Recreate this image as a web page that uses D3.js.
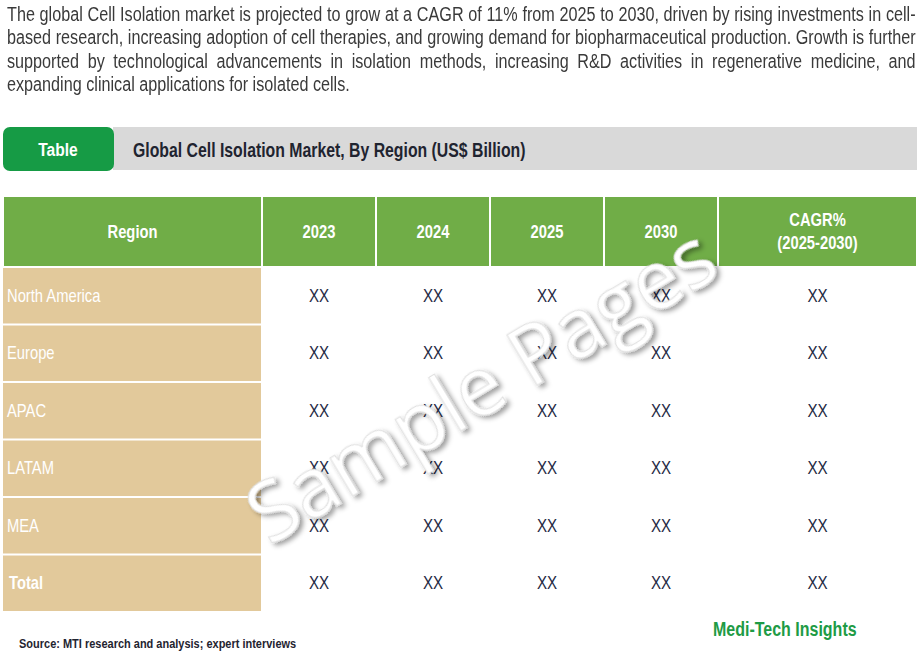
<!DOCTYPE html>
<html><head><meta charset="utf-8">
<script src="https://cdn.jsdelivr.net/npm/d3@7"></script>
<style>
body{margin:0;background:#fff;}
#para{position:absolute;left:7px;top:3px;width:1100px;transform:scaleX(0.826);transform-origin:0 0;font-family:"Liberation Sans",Arial,sans-serif;font-size:19.6px;line-height:23.3px;color:#3a3a3a;text-align:justify;}
svg{position:absolute;left:0;top:0;}
</style></head><body>
<div id="para">The global Cell Isolation market is projected to grow at a CAGR of 11% from 2025 to 2030, driven by rising investments in cell-based research, increasing adoption of cell therapies, and growing demand for biopharmaceutical production. Growth is further supported by technological advancements in isolation methods, increasing R&amp;D activities in regenerative medicine, and expanding clinical applications for isolated cells.</div>
<svg id="c" width="924" height="659"></svg>
<script>
const columns = ["Region","2023","2024","2025","2030","CAGR%\n(2025-2030)"];
const regions = ["North America","Europe","APAC","LATAM","MEA","Total"];
const values = regions.map(()=>["XX","XX","XX","XX","XX"]);
const colEdges = [3,262,376,490,604,718,917];
const F = '"Liberation Sans",Arial,sans-serif';
const SX = 0.82;
const svg = d3.select("#c");
const defs = svg.append("defs");
const f = defs.append("filter").attr("id","sh").attr("x","-10%").attr("y","-10%").attr("width","120%").attr("height","130%");
f.append("feDropShadow").attr("dx",2).attr("dy",4).attr("stdDeviation",2.5).attr("flood-color","#000").attr("flood-opacity",0.4);

function ntext(px,py,str,opts){
  return svg.append("text").attr("transform",`translate(${px},${py}) scale(${SX},1)`)
    .attr("font-family",F).attr("font-size",opts.size||18).attr("fill",opts.fill||"#000")
    .attr("font-weight",opts.bold?"bold":"normal").attr("text-anchor",opts.anchor||"start").text(str);
}
svg.append("rect").attr("x",113).attr("y",127).attr("width",804).attr("height",43).attr("fill","#d9d9d9");
svg.append("rect").attr("x",3).attr("y",127).attr("width",111).attr("height",44).attr("rx",7).attr("fill","#169b45");
ntext(58,156,"Table",{fill:"#fff",bold:true,anchor:"middle",size:19});
ntext(133,157,"Global Cell Isolation Market, By Region (US$ Billion)",{fill:"#1f2430",bold:true,size:19.3});

const x = i=>colEdges[i];
const hdrTop=197, hdrH=69;
columns.forEach((c,i)=>{
  svg.append("rect").attr("x",x(i)+1).attr("y",hdrTop).attr("width",x(i+1)-x(i)-2).attr("height",hdrH).attr("fill","#70ad47");
  const lines=c.split("\n");
  const cx=(x(i)+x(i+1))/2, cy=hdrTop+hdrH/2;
  lines.forEach((l,k)=>ntext(cx,cy+6+(k-(lines.length-1)/2)*23,l,{fill:"#fff",bold:true,anchor:"middle"}));
});
const y = d3.scaleBand().domain(regions).range([268,611]).paddingInner(0.035);
regions.forEach((r,ri)=>{
  svg.append("rect").attr("x",3).attr("y",y(r)).attr("width",258).attr("height",y.bandwidth()).attr("fill","#e2c99b");
  const cy=y(r)+y.bandwidth()/2+6;
  ntext(r==="Total"?9:7,cy,r,{fill:"#fff",bold:r==="Total"});
  values[ri].forEach((v,ci)=>ntext((x(ci+1)+x(ci+2))/2,cy,v,{fill:"#1f2a44",anchor:"middle",size:18.5}));
});
svg.append("text").attr("transform","translate(496,410) rotate(-31)").attr("text-anchor","middle")
  .attr("font-family","'Open Sans',sans-serif").attr("font-size",82).attr("font-weight",500).attr("fill","#fff").attr("stroke","#e0e0e0").attr("stroke-width",1)
  .attr("filter","url(#sh)").text("Sample Pages");
ntext(19,648,"Source: MTI research and analysis; expert interviews",{fill:"#1f2430",bold:true,size:13.4});
ntext(713,636,"Medi-Tech Insights",{fill:"#1e9b45",bold:true,size:19.5});
</script></body></html>
